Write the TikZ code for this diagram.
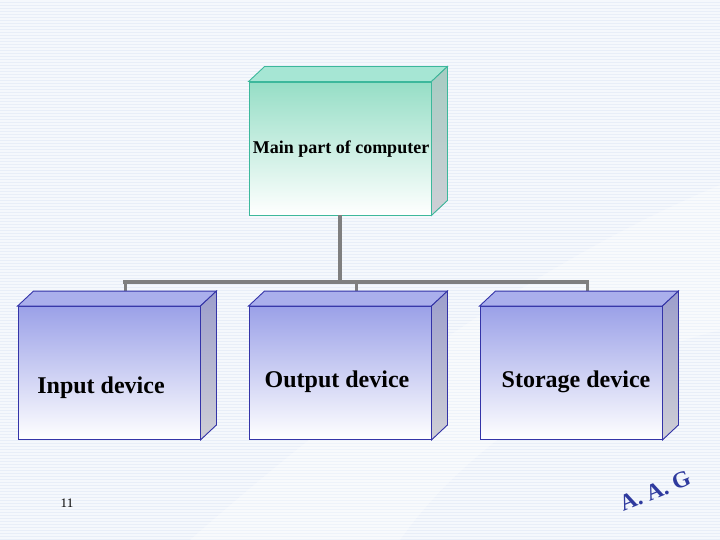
\documentclass[tikz,border=0pt]{standalone}
\usepackage{fontspec}
\setmainfont{Liberation Serif}
\usetikzlibrary{positioning,calc}

\definecolor{bgblue}{HTML}{E8EEF8}
\definecolor{stripe}{HTML}{F5F8FC}
\definecolor{tealedge}{HTML}{3DB89C}
\definecolor{tealtop}{HTML}{A6E6D4}
\definecolor{tealfront}{HTML}{96DEC6}
\definecolor{tealside}{HTML}{A6CCC2}
\definecolor{navyedge}{HTML}{3434A8}
\definecolor{blutop}{HTML}{AAAFEC}
\definecolor{blufront}{HTML}{9BA1E8}
\definecolor{bluside}{HTML}{9C9ECC}
\definecolor{sidegray}{HTML}{CFCFD6}
\definecolor{linkgray}{HTML}{7F7F7F}
\definecolor{signblue}{HTML}{2E3A9E}

\begin{document}
\begin{tikzpicture}[
        x=1pt, y=-1pt,
        front/.style={draw, line width=0.9pt, minimum width=182pt, minimum height=133pt, inner sep=0pt},
        mainbox/.style={front, draw=tealedge, top color=tealfront, bottom color=white},
        devbox/.style={front, draw=navyedge, top color=blufront, bottom color=white},
        boxtext/.style={font=\bfseries\fontsize{24}{28}\selectfont, inner sep=0pt},
        link/.style={draw=linkgray, line width=3.5pt}
    ]
    
    % Hintergrund mit Streifen
    \useasboundingbox (0,0) rectangle (720,540);
    \fill[bgblue] (0,0) rectangle (720,540);
    \foreach \y in {1,4,...,540}
        \draw[stripe, line width=1.2pt] (0,\y) -- (720,\y);
    \fill[white, opacity=0.3] (190,540) .. controls (360,390) and (540,260) .. (720,185) -- (720,330) .. controls (600,360) and (470,440) .. (400,540) -- cycle;
    
    % Hauptteil oben
    \node[mainbox] (main) at (340,148.5) {};
    
    % Geraete unten
    \node[devbox] (input) at (109,373) {};
    \node[devbox] (output) at (340,373) {};
    \node[devbox] (storage) at (571,373) {};
    
    % Verbindungen
    \coordinate (busL) at (125,282);
    \coordinate (busR) at (587,282);
    \foreach \b in {input,output,storage}
        \coordinate (\b top) at ($(\b.north)+(16,-14)$);
    \draw[link] (main.south) -- (main.south |- busL);
    \draw[link] ([xshift=-1.75pt]busL) -- ([xshift=1.75pt]busR);
    \foreach \b in {input,output,storage}
        \draw[link, line width=3pt] (\b top |- busL) -- (\b top);
    
    % Seitenflaechen
    \filldraw[tealtop, draw=tealedge, line width=0.9pt] (main.north west) -- ++(16,-15) -- ($(main.north east)+(16,-15)$) -- (main.north east) -- cycle;
    \filldraw[top color=tealside, bottom color=sidegray, draw=tealedge, line width=0.9pt] (main.north east) -- ++(16,-15) -- ($(main.south east)+(16,-15)$) -- (main.south east) -- cycle;
    \foreach \b in {input,output,storage} {
        \filldraw[blutop, draw=navyedge, line width=0.9pt] (\b.north west) -- ++(16,-15) -- ($(\b.north east)+(16,-15)$) -- (\b.north east) -- cycle;
        \filldraw[top color=bluside, bottom color=sidegray, draw=navyedge, line width=0.9pt] (\b.north east) -- ++(16,-15) -- ($(\b.south east)+(16,-15)$) -- (\b.south east) -- cycle;
    }
    
    % Beschriftungen
    \node[boxtext, font=\bfseries\fontsize{18}{21}\selectfont] (maintext) at (341,149) {Main part of computer};
    \node[boxtext] (inputtext) at (101,388) {Input device};
    \node[boxtext] (outputtext) at (337,382) {Output device};
    \node[boxtext] (storagetext) at (576,382) {Storage device};
    
    % Seitenzahl und Zeichen
    \node[font=\fontsize{13}{15}\selectfont, inner sep=0pt] (pagenum) at (67,503) {11};
    \node[font=\bfseries\fontsize{23}{27}\selectfont, text=signblue, rotate=22, inner sep=0pt] (sign) at (655,491) {A. A. G};
    
\end{tikzpicture}
\end{document}
